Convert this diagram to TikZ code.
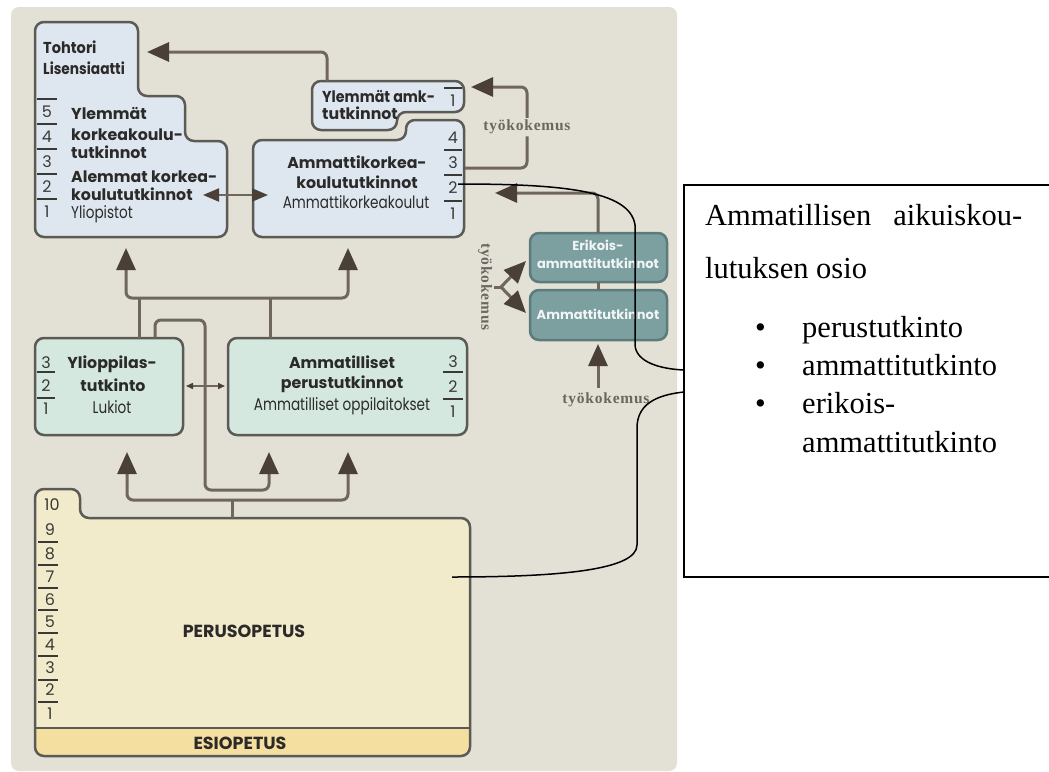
\documentclass[tikz,border=0pt]{standalone}
\usepackage{fontspec}
\setmainfont{Liberation Serif}
\newfontfamily\fut{Poppins}
\newfontfamily\futc{Poppins}[FakeStretch=0.8]
\newfontfamily\tkfont{Liberation Serif}[LetterSpace=5]
\usetikzlibrary{arrows.meta}
\definecolor{bgc}{HTML}{E3E0D6}
\definecolor{bluef}{HTML}{DEE7F0}
\definecolor{greenf}{HTML}{D4E8DF}
\definecolor{tealf}{HTML}{7C9FA0}
\definecolor{tealb}{HTML}{5E7B7C}
\definecolor{yelf}{HTML}{F1EACB}
\definecolor{esif}{HTML}{F5DFA0}
\definecolor{bord}{HTML}{5C5A55}
\definecolor{linec}{HTML}{6F665C}
\definecolor{arrdark}{HTML}{4A4038}
\definecolor{txt}{HTML}{2B2A28}
\definecolor{numc}{HTML}{3A3936}
\definecolor{tkc}{HTML}{6B6760}
\tikzset{
  Big/.tip={Triangle[width=19pt,length=22pt,color=arrdark]},
  Mid/.tip={Triangle[width=13pt,length=16pt,color=arrdark]},
  Small/.tip={Triangle[width=6pt,length=7pt,color=arrdark]},
  conn/.style={draw=linec,line width=3pt,rounded corners=6pt},
  boxb/.style={draw=bord,line width=2.5pt,rounded corners=9pt},
  tealbox/.style={draw=tealb,fill=tealf,line width=2.5pt,rounded corners=9pt},
  num/.style={font=\fut\fontsize{16}{18}\selectfont,text=numc,inner sep=0pt},
  bar/.style={draw=numc,line width=1.4pt},
  lb/.style={font=\fut\bfseries\fontsize{15.8}{18}\selectfont,text=txt,inner sep=0pt,anchor=base},
  lr/.style={font=\futc\fontsize{17}{19}\selectfont,text=txt,inner sep=0pt,anchor=base},
  lt/.style={font=\fut\bfseries\fontsize{13}{15}\selectfont,text=white!90!tealf,inner sep=0pt,anchor=base},
  tk/.style={font=\tkfont\bfseries\fontsize{15.5}{17}\selectfont,text=tkc,inner sep=2pt},
  callout/.style={draw=black,line width=1.5pt},
  ct/.style={font=\fontsize{30.5}{34}\selectfont,inner sep=0pt,anchor=base west},
}
\begin{document}
\begin{tikzpicture}[x=1pt,y=-1pt]
\useasboundingbox (0,0) rectangle (1049,771);
\fill[white] (0,0) rectangle (1049,771);
% background
\fill[bgc,rounded corners=8pt] (11,7) -- (677,7) -- (677,771) -- (11,771) -- cycle;

% ---------- Yliopisto box
\path[boxb,fill=bluef] (35,22) -- (138,22) -- (138,96) -- (185,96) -- (185,141) -- (227,141) -- (227,237) -- (35,237) -- cycle;
\node[lb,anchor=base west] (toh) at (43,53) {\scalebox{0.92}[1]{Tohtori}};
\node[lb,anchor=base west] (lis) at (43,74) {\scalebox{0.87}[1]{Lisensiaatti}};
\node[lb,anchor=base west] (y1) at (71,119) {Ylemmät};
\node[lb,anchor=base west] (y2) at (71,140) {korkeakoulu-};
\node[lb,anchor=base west] (y3) at (71,158) {tutkinnot};
\node[lb,anchor=base west] (y4) at (71,182) {Alemmat korkea-};
\node[lb,anchor=base west] (y5) at (71,200) {koulututkinnot};
\node[lr,anchor=base west] (y6) at (71,218) {Yliopistot};
\foreach \n/\y in {5/112,4/137,3/162,2/187,1/212} \node[num] (yn\n) at (47,\y) {\n};
\foreach \y in {99,124,149,174,199} \draw[bar] (37,\y) -- (57,\y);

% ---------- Ylemmät amk box
\path[boxb,fill=bluef] (312,81) -- (464,81) -- (464,112) -- (397,112) -- (397,130) -- (312,130) -- cycle;
\node[lb,anchor=base west] (ya1) at (322,102) {\scalebox{0.9}[1]{Ylemmät amk-}};
\node[lb,anchor=base west] (ya2) at (322,119) {tutkinnot};
\node[num] (yan1) at (453,101) {1};
\draw[bar] (444,88) -- (462,88);

% ---------- AMK box
\path[boxb,fill=bluef] (253,140) -- (406,140) -- (406,120) -- (464,120) -- (464,237) -- (253,237) -- cycle;
\node[lb] (a1) at (357,168) {Ammattikorkea-};
\node[lb] (a2) at (357,188) {koulututkinnot};
\node[lr] (a3) at (356,208) {Ammattikorkeakoulut};
\foreach \n/\y in {4/138,3/163,2/188,1/214} \node[num] (an\n) at (453,\y) {\n};
\foreach \y in {150,175,201} \draw[bar] (444,\y) -- (462,\y);

% ---------- Lukiot box
\path[boxb,fill=greenf] (35,338) rectangle (183,435);
\node[lb] (l1) at (112,368) {Ylioppilas-};
\node[lb] (l2) at (113,391) {tutkinto};
\node[lr] (l3) at (112,413) {Lukiot};
\foreach \n/\y in {3/363,2/386,1/409} \node[num] (ln\n) at (46,\y) {\n};
\foreach \y in {372,398} \draw[bar] (37,\y) -- (55,\y);

% ---------- Ammatilliset box
\path[boxb,fill=greenf] (228,338) rectangle (467,435);
\node[lb] (m1) at (342,368) {Ammatilliset};
\node[lb] (m2) at (342,388) {perustutkinnot};
\node[lr] (m3) at (342,410) {Ammatilliset oppilaitokset};
\foreach \n/\y in {3/362,2/387,1/412} \node[num] (mn\n) at (453,\y) {\n};
\foreach \y in {372,399} \draw[bar] (443,\y) -- (463,\y);

% ---------- teal boxes
\path[tealbox] (530,233) rectangle (667,282);
\node[lt] (e1) at (598,250) {Erikois-};
\node[lt] (e2) at (598,268) {ammattitutkinnot};
\path[tealbox] (530,290) rectangle (667,340);
\node[lt] (at1) at (598,319) {Ammattitutkinnot};

% ---------- Perusopetus
\begin{scope}
\path[clip,rounded corners=9pt] (35,518) -- (35,489) -- (80,489) -- (80,518) -- (470,518) -- (470,756) -- (35,756) -- cycle;
\fill[yelf] (0,480) rectangle (500,771);
\fill[esif] (0,728) rectangle (500,771);
\end{scope}
\draw[bord,line width=2.5pt,rounded corners=9pt] (35,518) -- (35,489) -- (80,489) -- (80,518) -- (470,518) -- (470,756) -- (35,756) -- cycle;
\draw[bord,line width=2pt] (36,728) -- (469,728);
\node[lb,font=\fut\bfseries\fontsize{17.5}{20}\selectfont] (per) at (244,637) {PERUSOPETUS};
\node[lb,font=\fut\bfseries\fontsize{17.5}{20}\selectfont] (esi) at (240,749) {ESIOPETUS};
\node[num] (pn10) at (52,505) {10};
\foreach \n/\y in {9/530,8/554,7/577,6/600,5/622,4/645,3/668,2/690,1/714} \node[num] (pn\n) at (50,\y) {\n};
\foreach \y in {542,565,588,610,633,656,680,702} \draw[bar] (38,\y) -- (58,\y);

% ---------- connectors
\coordinate (ylB) at (126,248);
\coordinate (amB) at (348,248);
\coordinate (lukT) at (139,338);
\coordinate (ammT) at (270,338);
\draw[conn,{Big}-{Big}] (ylB) -- (126,298) -- (348,298) -- (amB);
\draw[conn] (lukT) -- (139,298);
\draw[conn] (ammT) -- (270,298);
\coordinate (lukT2) at (155,338);
\coordinate (ammB1) at (269,452);
\draw[conn,-{Big}] (lukT2) -- (155,320) -- (205,320) -- (205,490) -- (269,490) -- (ammB1);
\coordinate (perT) at (232,518);
\coordinate (lukB) at (127,452);
\coordinate (ammB2) at (348,452);
\draw[conn,{Big}-{Big}] (lukB) -- (127,500) -- (348,500) -- (ammB2);
\draw[conn] (perT) -- (232,500);
% small double arrow
\coordinate (lukR) at (186,386);
\coordinate (ammL) at (225,386);
\draw[draw=linec,line width=1.5pt,{Small}-{Small}] (lukR) -- (ammL);
% double arrow between yliopisto and amk
\coordinate (yliA) at (203,195);
\coordinate (amkA) at (268,195);
\draw[draw=linec,line width=2pt,{Mid}-{Mid}] (yliA) -- (amkA);
% amk to tohtori
\coordinate (yaT) at (327,81);
\coordinate (tohA) at (147,52);
\draw[conn,-{Big}] (yaT) -- (327,52) -- (tohA);
% tyokokemus top
\node[tk] (tk1) at (527,127) {työkokemus};
\coordinate (amk3) at (465,168);
\coordinate (yaR) at (471,87);
\draw[conn] (amk3) -| (tk1.south);
\draw[conn,-{Big}] (tk1.north) |- (yaR);
% erikois to amk
\coordinate (eT) at (598,233);
\coordinate (amk2) at (495,193);
\draw[conn,-{Big}] (eT) -- (598,193) -- (amk2);
\draw[conn] (598,282) -- (598,290);
% tyokokemus bottom
\node[tk] (tk3) at (606,400) {työkokemus};
\coordinate (atB) at (598,344);
\draw[conn,-{Big}] (598,388) -- (atB);
% vertical tyokokemus and fork
\node[tk,rotate=-90] (tk2) at (485,287) {työkokemus};
\coordinate (fork) at (501,287);
\coordinate (eL) at (526,261);
\coordinate (atL) at (526,313);
\draw[draw=linec,line width=3pt] (tk2.north) -- (fork);
\draw[draw=linec,line width=3pt,-{Big}] (fork) -- (eL);
\draw[draw=linec,line width=3pt,-{Big}] (fork) -- (atL);

% ---------- callout box
\draw[callout] (1049,185) -- (684,185) -- (684,577) -- (1049,577);
\node[ct] (c1) at (705,225) {\makebox[317pt][s]{Ammatillisen aikuiskou-}};
\node[ct] (c2) at (705,278) {lutuksen osio};
\node[ct] (b1) at (755,337) {•};
\node[ct] (b2) at (755,375) {•};
\node[ct] (b3) at (755,413) {•};
\node[ct] (i1) at (802,337) {perustutkinto};
\node[ct] (i2) at (802,375) {ammattitutkinto};
\node[ct] (i3) at (802,413) {erikois-};
\node[ct] (i4) at (802,452) {ammattitutkinto};
\coordinate (amk2b) at (458,184);
\coordinate (calL1) at (684,370);
\coordinate (calL2) at (684,392);
\coordinate (perR) at (452,577);
\draw[callout] (amk2b) .. controls (560,184) and (630,190) .. (635,225) -- (635,345) .. controls (636,362) and (660,369) .. (calL1);
\draw[callout] (calL2) .. controls (655,395) and (637,405) .. (637,428) -- (637,545) .. controls (637,570) and (560,577) .. (perR);
\end{tikzpicture}
\end{document}
